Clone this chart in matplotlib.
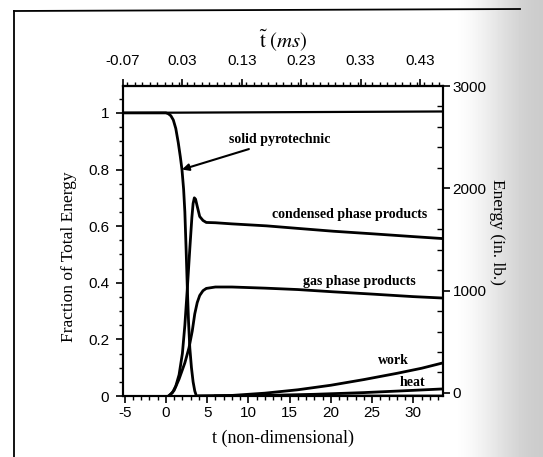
import numpy as np
import matplotlib
matplotlib.use("Agg")
import matplotlib.pyplot as plt
from matplotlib.ticker import MultipleLocator
from matplotlib.lines import Line2D

plt.rcParams['mathtext.fontset'] = 'stix'
plt.rcParams['axes.unicode_minus'] = False

# ---- data ----
t_solid = [-5.2, 0.0, 0.3, 0.6, 0.9, 1.2, 1.5, 1.75, 1.95, 2.15, 2.3, 2.45, 2.6, 2.75, 2.9, 3.1, 3.3, 3.5, 3.7, 33.6]
f_solid = [1.0, 1.0, 0.997, 0.99, 0.975, 0.945, 0.895, 0.845, 0.80, 0.73, 0.65, 0.52, 0.38, 0.26, 0.17, 0.10, 0.05, 0.018, 0.0, 0.0]

t_cond = [0.3, 0.8, 1.2, 1.6, 2.0, 2.3, 2.6, 2.9, 3.15, 3.3, 3.45, 3.6, 3.8, 4.1, 4.5, 4.9, 6.0, 8.0, 12.2, 16.0, 20.3, 25.0, 30.0, 33.6]
f_cond = [0.0, 0.012, 0.035, 0.075, 0.15, 0.25, 0.38, 0.52, 0.63, 0.68, 0.70, 0.695, 0.67, 0.634, 0.62, 0.613, 0.612, 0.608, 0.601, 0.592, 0.582, 0.573, 0.563, 0.556]

t_gas = [0.4, 1.0, 1.6, 2.3, 2.8, 3.2, 3.5, 3.8, 4.1, 4.5, 4.9, 6.0, 8.0, 12.0, 16.0, 20.3, 25.0, 30.0, 33.6]
f_gas = [0.0, 0.02, 0.06, 0.117, 0.17, 0.23, 0.29, 0.33, 0.355, 0.372, 0.38, 0.385, 0.385, 0.381, 0.376, 0.368, 0.360, 0.351, 0.346]

t_work = [4.0, 8.0, 12.0, 16.0, 20.0, 24.0, 28.0, 31.0, 33.6]
f_work = [0.0, 0.002, 0.01, 0.022, 0.038, 0.058, 0.080, 0.098, 0.117]

t_heat = [6.0, 12.0, 18.0, 24.0, 30.0, 33.6]
f_heat = [0.0, 0.002, 0.006, 0.012, 0.020, 0.025]

t_total = [-5.2, 33.6]
f_total = [1.0, 1.005]

x_ticks = [-5, 0, 5, 10, 15, 20, 25, 30]
y_ticks = [0, 0.2, 0.4, 0.6, 0.8, 1]
y_ticklabels = ['0', '0.2', '0.4', '0.6', '0.8', '1']
top_ticks = [-0.07, 0.03, 0.13, 0.23, 0.33, 0.43]
right_ticks = [0, 1000, 2000, 3000]

labels = ["solid pyrotechnic", "condensed phase products", "gas phase products", "work", "heat"]

# ---- figure ----
W, H = 543, 457
fig = plt.figure(figsize=(W / 100, H / 100), dpi=100)
fig.patch.set_facecolor('white')

# scanned gray band on the right
bg = fig.add_axes([0, 0, 1, 1], zorder=-10)
bg.set_axis_off()
xs = np.linspace(0, 1, 543)
g = np.clip((xs - 0.83) / 0.17, 0, 1)
g = g * g * (3 - 2 * g)
shade = 1 - 0.2 * g
img = np.tile(shade, (10, 1))
bg.imshow(img, cmap='gray', vmin=0, vmax=1, aspect='auto', extent=[0, 1, 0, 1])
bg.set_xlim(0, 1)
bg.set_ylim(0, 1)

# frame of the scan
fig.add_artist(Line2D([14 / W, 520 / W], [1 - 11 / H, 1 - 9 / H], color='k', lw=1.3, transform=fig.transFigure))
fig.add_artist(Line2D([14 / W, 14 / W], [1 - 11 / H, 0], color='k', lw=1.3, transform=fig.transFigure))

ax = fig.add_axes([123 / W, 1 - 396 / H, 320 / W, 310 / H])
ax.set_facecolor('none')

serif = 'Liberation Serif'
sans = 'Liberation Sans'
lw = 2.0
ax.plot(t_total, f_total, color='k', lw=1.6)
ax.plot(t_solid, f_solid, color='k', lw=lw)
ax.plot(t_cond, f_cond, color='k', lw=lw)
ax.plot(t_gas, f_gas, color='k', lw=lw)
ax.plot(t_work, f_work, color='k', lw=lw)
ax.plot(t_heat, f_heat, color='k', lw=lw)

ax.set_xlim(-5.2, 33.6)
ax.set_ylim(0, 1.095)
ax.set_xticks(x_ticks)
ax.set_yticks(y_ticks)
ax.set_yticklabels(y_ticklabels)
ax.xaxis.set_minor_locator(MultipleLocator(1))
ax.yaxis.set_minor_locator(MultipleLocator(0.05))
ax.tick_params(axis='both', which='major', direction='out', length=5, width=1.2, labelsize=11, pad=2)
ax.tick_params(axis='y', which='major', pad=5)
ax.tick_params(axis='both', which='minor', direction='out', length=3, width=1.0)
for lab in ax.get_xticklabels() + ax.get_yticklabels():
    lab.set_fontfamily(sans)
for s in ax.spines.values():
    s.set_linewidth(1.5)

ax.set_xlabel('t (non-dimensional)', fontfamily=serif, fontsize=13, labelpad=7)
ax.set_ylabel('Fraction of Total Energy', fontfamily=serif, fontsize=12.5)
ax.yaxis.set_label_coords((77 - 123) / 320, 0.45)

# annotations
fs = 10
ax.annotate(labels[0], xy=(1.95, 0.80), xytext=(7.6, 0.905), fontfamily=serif, fontsize=fs,
            fontweight='bold', va='center', ha='left',
            arrowprops=dict(arrowstyle='-|>', color='k', lw=1.5, mutation_scale=10, shrinkA=0, shrinkB=0))
ax.text(22.3, 0.64, labels[1], fontfamily=serif, fontsize=fs, fontweight='bold', ha='center', va='center')
ax.text(23.4, 0.405, labels[2], fontfamily=serif, fontsize=fs, fontweight='bold', ha='center', va='center')
ax.text(27.6, 0.125, labels[3], fontfamily=serif, fontsize=fs, fontweight='bold', ha='center', va='center')
ax.text(29.9, 0.049, labels[4], fontfamily=serif, fontsize=fs, fontweight='bold', ha='center', va='center')

# top axis (ms)
k = 0.5 / 36.0
def fwd(t):
    return -0.07 + (np.asarray(t) + 5.2) * k
def inv(m):
    return (np.asarray(m) + 0.07) / k - 5.2
top = ax.secondary_xaxis('top', functions=(fwd, inv))
top.set_xticks(top_ticks)
top.set_xticklabels(['%.2f' % v for v in top_ticks])
top.xaxis.set_minor_locator(MultipleLocator(0.0125))
top.tick_params(which='major', direction='out', length=5, width=1.2, labelsize=11, pad=8)
top.tick_params(which='minor', direction='out', length=3, width=1.0)
for lab in top.get_xticklabels():
    lab.set_fontfamily(sans)
top.spines['top'].set_linewidth(1.5)
top.set_xlabel(r'$\tilde{\mathrm{t}}\ (\mathit{ms})$', fontsize=15, labelpad=5)

# right axis (energy)
rax = ax.twinx()
rax.set_ylim(-30, 3000)
rax.set_yticks(right_ticks)
rax.set_yticklabels([str(v) for v in right_ticks])
rax.yaxis.set_minor_locator(MultipleLocator(200))
rax.tick_params(which='major', direction='out', length=5, width=1.2, labelsize=11, pad=2)
rax.tick_params(which='minor', direction='in', length=4, width=1.0)
for lab in rax.get_yticklabels():
    lab.set_fontfamily(sans)
for s in rax.spines.values():
    s.set_linewidth(1.5)
rax.set_ylabel('Energy (in. lb.)', fontfamily=serif, fontsize=12.5, rotation=270, va='bottom')
rax.yaxis.set_label_coords((489 - 123) / 320, (396 - 232) / 310)

fig.savefig('out.png', dpi=100)
